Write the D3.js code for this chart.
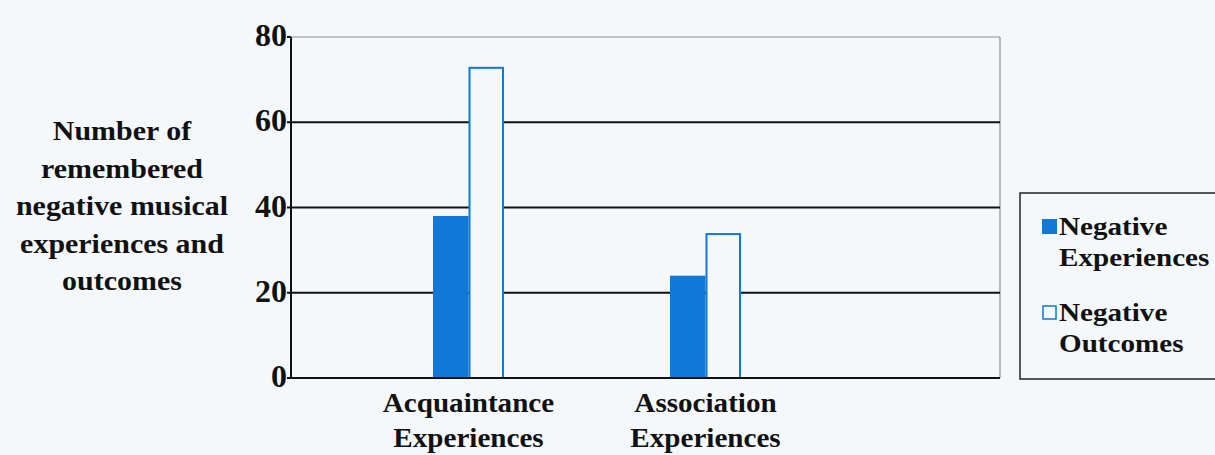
<!DOCTYPE html>
<html>
<head>
<meta charset="utf-8">
<script src="https://cdn.jsdelivr.net/npm/d3@7"></script>
<style>
  html, body { margin: 0; padding: 0; background: #f4f8fb; }
  svg { display: block; }
  text { font-family: "Liberation Serif", "Times New Roman", serif; font-weight: bold; fill: #111; }
</style>
</head>
<body>
<div id="chart"></div>
<script>
'use strict';

/**** Data ****/
var categories = ['Acquaintance Experiences', 'Association Experiences'];
var categoryLines = [['Acquaintance', 'Experiences'], ['Association', 'Experiences']];
var seriesNames = ['Negative Experiences', 'Negative Outcomes'];
var negativeExperiences = [38, 24];
var negativeOutcomes = [73, 34];
var yTicks = [0, 20, 40, 60, 80];
var yTitleLines = ['Number of', 'remembered', 'negative musical', 'experiences and', 'outcomes'];
var legendLines = [['Negative', 'Experiences'], ['Negative', 'Outcomes']];

var width = 1215, height = 455;
var plot = { left: 291, right: 1000, top: 37, bottom: 378 };
var blue = '#0f78d8';
var bg = '#f4f8fb';

var svg = d3.select('#chart').append('svg')
    .attr('width', width)
    .attr('height', height);

//Helper: text with a slight horizontal stretch (the scanned type is a bit wide)
var addText = function(g, x, y, str, size, stretch, anchor) {
    return g.append('text')
        .attr('transform', 'translate(' + x + ',' + y + ') scale(' + stretch + ',1)')
        .attr('text-anchor', anchor || 'middle')
        .style('font-size', size + 'px')
        .text(str);
};

/* Scales */
var y = d3.scaleLinear().domain([0, 80]).range([plot.bottom, plot.top]);
//categories sit left of centre in the frame, as in the original
var x = d3.scaleBand().domain(categories).range([350, 824]);
var x1 = d3.scaleBand().domain(seriesNames)
    .range([x.bandwidth() / 2 - 35.5, x.bandwidth() / 2 + 35.5]);

/* Frame and grid */
var gridGroup = svg.append('g');
gridGroup.append('line')
    .attr('x1', plot.left).attr('x2', plot.right)
    .attr('y1', y(80)).attr('y2', y(80))
    .attr('stroke', '#8a8e92').attr('stroke-width', 1.2);
gridGroup.append('line')
    .attr('x1', plot.right).attr('x2', plot.right)
    .attr('y1', y(80)).attr('y2', y(0))
    .attr('stroke', '#8a8e92').attr('stroke-width', 1.2);
gridGroup.selectAll('.grid')
    .data(yTicks.filter(function(d) { return d > 0 && d < 80; }))
    .enter().append('line')
    .attr('class', 'grid')
    .attr('x1', plot.left).attr('x2', plot.right)
    .attr('y1', function(d) { return y(d); })
    .attr('y2', function(d) { return y(d); })
    .attr('stroke', '#111').attr('stroke-width', 2);

/* Bars */
var rows = categories.map(function(c, i) {
    return { cat: c, values: [negativeExperiences[i], negativeOutcomes[i]] };
});
var barGroups = svg.append('g').selectAll('g')
    .data(rows)
    .enter().append('g')
    .attr('transform', function(d) { return 'translate(' + x(d.cat) + ',0)'; });
barGroups.selectAll('rect')
    .data(function(d) { return d.values.map(function(v, j) { return { name: seriesNames[j], value: v, j: j }; }); })
    .enter().append('rect')
    .attr('x', function(d) { return x1(d.name) + (d.j ? 1 : 0); })
    .attr('y', function(d) { return y(d.value) + (d.j ? 1 : 0); })
    .attr('width', function(d) { return x1.bandwidth() - (d.j ? 2 : 0); })
    .attr('height', function(d) { return y(0) - y(d.value) - (d.j ? 1 : 0); })
    .attr('fill', function(d) { return d.j ? bg : blue; })
    .attr('stroke', function(d) { return d.j ? blue : 'none'; })
    .attr('stroke-width', 2);

/* Axes */
var axisGroup = svg.append('g');
axisGroup.append('line')
    .attr('x1', plot.left).attr('x2', plot.right)
    .attr('y1', y(0)).attr('y2', y(0))
    .attr('stroke', '#111').attr('stroke-width', 2);
axisGroup.append('line')
    .attr('x1', plot.left).attr('x2', plot.left)
    .attr('y1', y(80)).attr('y2', y(0) + 1)
    .attr('stroke', '#111').attr('stroke-width', 2);
axisGroup.selectAll('.tick')
    .data(yTicks)
    .enter().append('line')
    .attr('class', 'tick')
    .attr('x1', plot.left - 4).attr('x2', plot.left)
    .attr('y1', function(d) { return y(d); })
    .attr('y2', function(d) { return y(d); })
    .attr('stroke', '#111').attr('stroke-width', 2);
yTicks.forEach(function(t) {
    addText(axisGroup, plot.left - 4, y(t) + 9, String(t), 32, 1, 'end');
});
categories.forEach(function(c, i) {
    var cx = x(c) + x.bandwidth() / 2;
    addText(axisGroup, cx, 412, categoryLines[i][0], 28, 1.04);
    addText(axisGroup, cx, 447, categoryLines[i][1], 28, 1.04);
});

/* Y title */
var titleGroup = svg.append('g');
yTitleLines.forEach(function(line, i) {
    addText(titleGroup, 122, 140 + i * 37.5, line, 28, 1.07);
});

/* Legend */
var legendGroup = svg.append('g');
legendGroup.append('rect')
    .attr('x', 1020).attr('y', 193)
    .attr('width', 230).attr('height', 186)
    .attr('fill', 'none').attr('stroke', '#222').attr('stroke-width', 1.5);
seriesNames.forEach(function(name, i) {
    var top = 219 + i * 86;
    legendGroup.append('rect')
        .attr('x', 1042 + (i ? 1 : 0)).attr('y', top + (i ? 1 : 0))
        .attr('width', i ? 13 : 15).attr('height', i ? 13 : 15)
        .attr('fill', i ? bg : blue)
        .attr('stroke', i ? blue : 'none')
        .attr('stroke-width', 1.5);
    addText(legendGroup, 1059, top + 16, legendLines[i][0], 26, 1.12, 'start');
    addText(legendGroup, 1059, top + 47, legendLines[i][1], 26, 1.12, 'start');
});
</script>
</body>
</html>
